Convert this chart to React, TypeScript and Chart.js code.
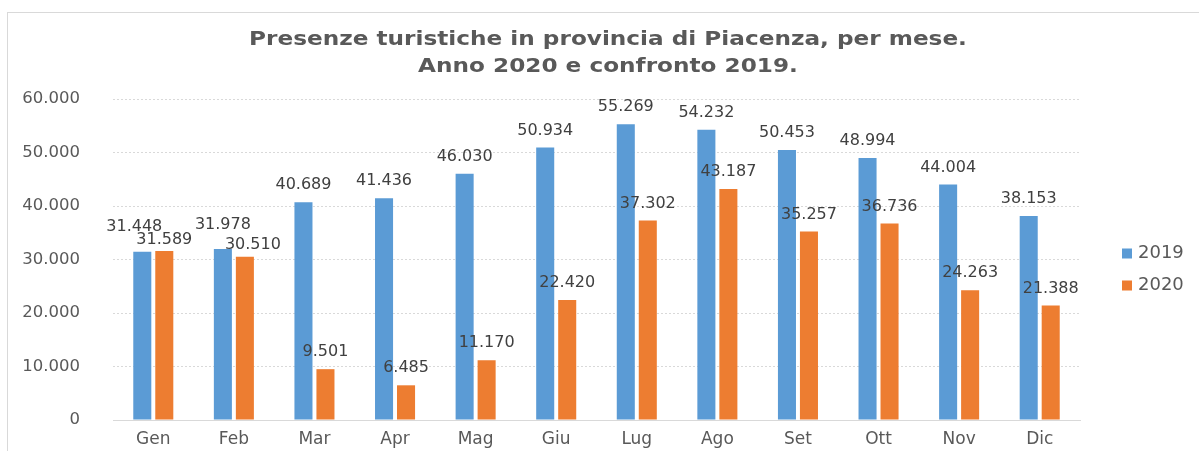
import React, { useEffect, useRef } from "react";
import { Chart, registerables } from "chart.js";

Chart.register(...registerables);

const months = ["Gen", "Feb", "Mar", "Apr", "Mag", "Giu", "Lug", "Ago", "Set", "Ott", "Nov", "Dic"];
const values2019 = [31448, 31978, 40689, 41436, 46030, 50934, 55269, 54232, 50453, 48994, 44004, 38153];
const values2020 = [31589, 30510, 9501, 6485, 11170, 22420, 37302, 43187, 35257, 36736, 24263, 21388];
const seriesNames = ["2019", "2020"];
const seriesColors = ["#5B9BD5", "#ED7D31"];
const titleLines = ["Presenze turistiche in provincia di Piacenza, per mese.", "Anno 2020 e confronto 2019."];

const fmt = (v: number) => {
  const s = Math.round(v).toString();
  return s.replace(/\B(?=(\d{3})+(?!\d))/g, ".");
};

const FONT = "'DejaVu Sans', Verdana, sans-serif";

const titlePlugin = {
  id: "stretchedTitle",
  afterDraw(chart: any) {
    const ctx = chart.ctx;
    const cx = chart.width / 2 + 4;
    titleLines.forEach((line, i) => {
      ctx.save();
      ctx.font = `bold 19px ${FONT}`;
      ctx.fillStyle = "#595959";
      ctx.textBaseline = "middle";
      ctx.textAlign = "center";
      ctx.translate(cx, 27 + i * 27);
      ctx.scale(1.22, 1);
      ctx.fillText(line, 0, 0);
      ctx.restore();
    });
  },
};

const labelPlugin = {
  id: "barLabels",
  afterDatasetsDraw(chart: any) {
    const ctx = chart.ctx;
    ctx.save();
    ctx.font = `16px ${FONT}`;
    ctx.fillStyle = "#404040";
    ctx.textAlign = "center";
    ctx.textBaseline = "middle";
    const m0 = chart.getDatasetMeta(0);
    const m1 = chart.getDatasetMeta(1);
    const d0 = chart.data.datasets[0].data as number[];
    const d1 = chart.data.datasets[1].data as number[];
    for (let i = 0; i < d0.length; i++) {
      const b0 = m0.data[i];
      const b1 = m1.data[i];
      let x0 = b0.x, y0 = b0.y - 17;
      let x1 = b1.x, y1 = b1.y - 17;
      if (Math.abs(y0 - y1) < 18) {
        // resolve overlap: first series up, second down, shorter bar's label moves outward
        const top = Math.min(y0, y1);
        const bottom = Math.max(y0, y1);
        y0 = top - 7;
        y1 = bottom + 5;
        if (d0[i] < d1[i]) x0 -= 8;
        else x1 += 8;
      }
      ctx.fillText(fmt(d0[i]), x0, y0);
      ctx.fillText(fmt(d1[i]), x1, y1);
    }
    ctx.restore();
  },
};

const legendPlugin = {
  id: "sideLegend",
  afterDraw(chart: any) {
    const ctx = chart.ctx;
    const area = chart.chartArea;
    const left = area.right + 42;
    const mid = (area.top + area.bottom) / 2 + 10;
    ctx.save();
    ctx.font = `18px ${FONT}`;
    ctx.textAlign = "left";
    ctx.textBaseline = "middle";
    chart.data.datasets.forEach((ds: any, i: number) => {
      const y = mid + (i - 0.5) * 32;
      ctx.fillStyle = ds.backgroundColor;
      ctx.fillRect(left, y - 5, 10, 10);
      ctx.fillStyle = "#595959";
      ctx.fillText(ds.label, left + 16, y);
    });
    ctx.restore();
  },
};

export default function App() {
  const ref = useRef<HTMLCanvasElement>(null);
  useEffect(() => {
    document.body.style.overflow = "hidden";
    const chart = new Chart(ref.current!, {
      type: "bar",
      data: {
        labels: months,
        datasets: [
          { label: seriesNames[0], data: values2019, backgroundColor: seriesColors[0], categoryPercentage: 0.546, barPercentage: 0.82 },
          { label: seriesNames[1], data: values2020, backgroundColor: seriesColors[1], categoryPercentage: 0.546, barPercentage: 0.82 },
        ],
      },
      options: {
        animation: false,
        responsive: false,
        layout: { padding: { left: 0, right: 120, top: 86, bottom: 0 } },
        plugins: {
          legend: { display: false },
          tooltip: { enabled: false },
          title: { display: false },
        },
        scales: {
          x: {
            grid: { display: false, drawTicks: false },
            border: { display: true, color: "#d9d9d9" },
            ticks: { color: "#595959", font: { family: FONT, size: 17 }, padding: 9 },
            afterFit: (s: any) => { s.height = 31; },
          },
          y: {
            min: 0,
            max: 60000,
            ticks: { stepSize: 10000, color: "#595959", font: { family: FONT, size: 16.5 }, padding: 33, callback: (v: any) => fmt(Number(v)) },
            grid: { color: "#d9d9d9", drawTicks: false },
            border: { display: false, dash: [2, 2] },
            afterFit: (s: any) => { s.width = 105; s.paddingTop = 0; s.paddingBottom = 0; },
          },
        },
      },
      plugins: [titlePlugin, labelPlugin, legendPlugin],
    });
    return () => chart.destroy();
  }, []);
  return (
    <div style={{ position: "absolute", left: 7, top: 12, width: 1200, height: 445, border: "1px solid #d9d9d9", background: "#fff" }}>
      <canvas ref={ref} width={1192} height={438} style={{ display: "block" }} />
    </div>
  );
}
